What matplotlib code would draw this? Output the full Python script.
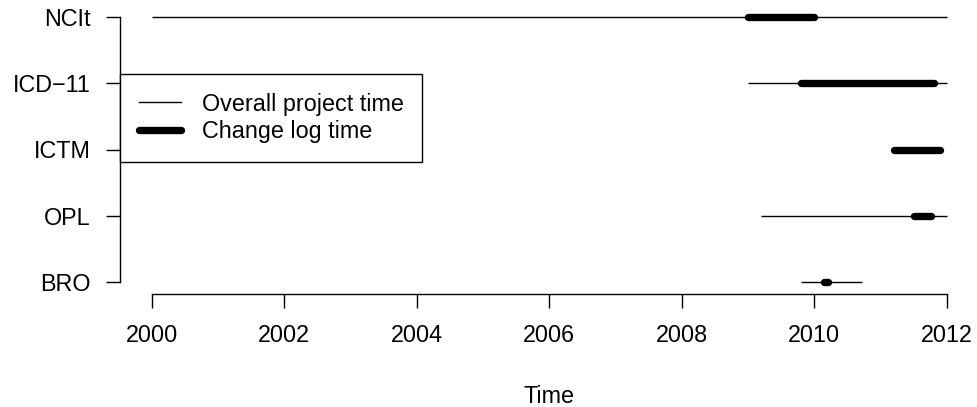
import matplotlib
matplotlib.use('Agg')
import matplotlib.pyplot as plt
from matplotlib.lines import Line2D

plt.rcParams['font.family'] = ['Liberation Sans', 'DejaVu Sans']

# projects from bottom to top
projects = ['BRO', 'OPL', 'ICTM', 'ICD\u221211', 'NCIt']
overall_start = [2009.8, 2009.2, 2011.2, 2009.0, 2000.0]
overall_end = [2010.72, 2012.0, 2011.9, 2012.0, 2012.0]
log_start = [2010.15, 2011.5, 2011.2, 2009.8, 2009.0]
log_end = [2010.2, 2011.76, 2011.9, 2011.8, 2010.0]
years = [2000, 2002, 2004, 2006, 2008, 2010, 2012]

FS = 16.8
W, H = 978, 407
fig = plt.figure(figsize=(W / 100, H / 100), dpi=100)
ax = fig.add_axes([120 / W, (H - 294) / H, 858 / W, 288 / H])

ypos = list(range(1, len(projects) + 1))
for y, s, e in zip(ypos, overall_start, overall_end):
    ax.plot([s, e], [y, y], color='black', lw=1.0, solid_capstyle='butt')
for y, s, e in zip(ypos, log_start, log_end):
    ax.plot([s, e], [y, y], color='black', lw=5.3, solid_capstyle='round')

ax.set_xlim(1999.52, 1999.52 + 858 / 66.25)
ax.set_ylim(1 - 12 / 66.25, 5 + 11 / 66.25)

ax.set_xticks(years)
ax.set_xticklabels([str(v) for v in years])
ax.set_yticks(ypos)
ax.set_yticklabels(projects)

for side in ['top', 'right']:
    ax.spines[side].set_visible(False)
ax.spines['bottom'].set_bounds(2000, 2012)
ax.spines['left'].set_bounds(1, 5)
for side in ['bottom', 'left']:
    ax.spines[side].set_linewidth(1.0)

ax.tick_params(axis='x', length=10.3, width=1.0, labelsize=FS, pad=11)
ax.tick_params(axis='y', length=10, width=1.0, labelsize=FS, pad=11)
ax.set_xlabel('Time', fontsize=FS, labelpad=28)

handles = [Line2D([], [], color='black', lw=1.0),
           Line2D([], [], color='black', lw=5.3, solid_capstyle='round')]
leg = ax.legend(handles, ['Overall project time', 'Change log time'],
                loc='upper left', bbox_to_anchor=(120 / W, 1 - 74 / H),
                bbox_transform=fig.transFigure, fontsize=FS,
                frameon=True, fancybox=False, edgecolor='black',
                framealpha=1, borderpad=0.8, labelspacing=0.2,
                handlelength=1.8, handletextpad=0.9, borderaxespad=0)
leg.get_frame().set_linewidth(1.0)

fig.savefig('out.png', dpi=100)
plt.close()
